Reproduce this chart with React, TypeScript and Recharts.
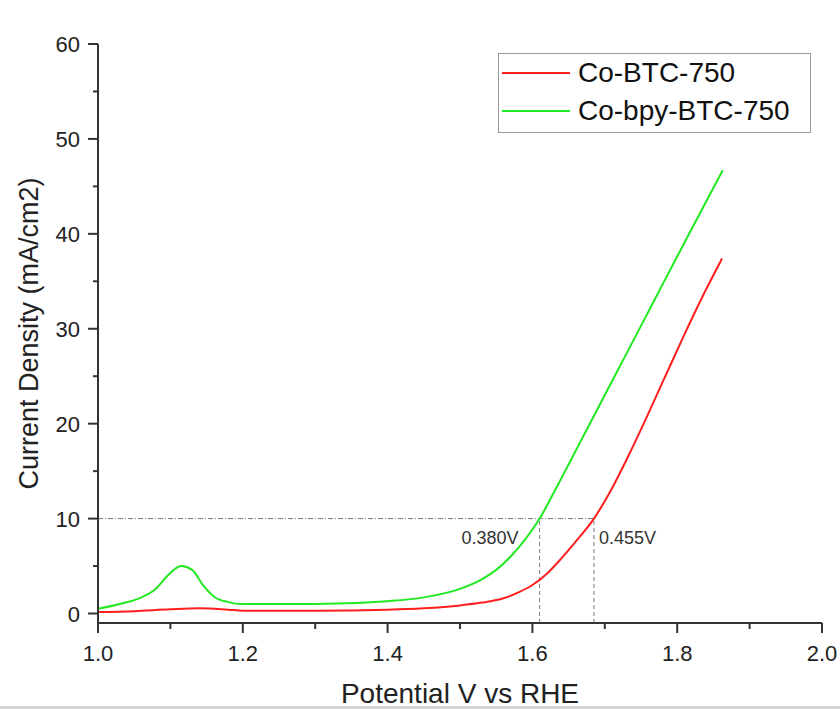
import React from 'react';
import { LineChart, Line, XAxis, YAxis, ReferenceLine, ReferenceDot } from 'recharts';

// Co-BTC-750 (red)
const redV = [1.0, 1.05, 1.1, 1.14, 1.18, 1.2, 1.3, 1.4, 1.45, 1.5, 1.53, 1.56, 1.58, 1.6, 1.62, 1.64, 1.66, 1.685, 1.71, 1.73, 1.75, 1.78, 1.81, 1.835, 1.862];
const redJ = [0.15, 0.25, 0.45, 0.55, 0.4, 0.3, 0.3, 0.4, 0.55, 0.85, 1.15, 1.6, 2.2, 3.0, 4.2, 5.8, 7.6, 10, 13.2, 16.2, 19.4, 24.4, 29.4, 33.4, 37.4];

// Co-bpy-BTC-750 (green)
const greenV = [1.0, 1.03, 1.06, 1.08, 1.095, 1.115, 1.13, 1.145, 1.16, 1.18, 1.2, 1.3, 1.4, 1.45, 1.5, 1.53, 1.55, 1.57, 1.59, 1.61, 1.63, 1.65, 1.68, 1.715, 1.75, 1.78, 1.813, 1.84, 1.863];
const greenJ = [0.5, 1.0, 1.7, 2.6, 3.9, 5.0, 4.6, 3.0, 1.8, 1.2, 1.0, 1.0, 1.3, 1.7, 2.6, 3.6, 4.6, 6.0, 7.8, 10, 12.8, 15.7, 20.1, 25.2, 30.3, 34.7, 39.5, 43.4, 46.7];

const seriesNames = ['Co-BTC-750', 'Co-bpy-BTC-750'];
const seriesColors = ['#ff1e1e', '#22e822'];

const xTicks = [1.0, 1.1, 1.2, 1.3, 1.4, 1.5, 1.6, 1.7, 1.8, 1.9, 2.0];
const yTicks = [0, 5, 10, 15, 20, 25, 30, 35, 40, 45, 50, 55, 60];

// overpotential markers at 10 mA/cm2
const markerLevel = 10;
const markerV = [1.61, 1.685];
const markerLabels = ['0.380V', '0.455V'];

const redData = redV.map((x, i) => ({ x, y: redJ[i] }));
const greenData = greenV.map((x, i) => ({ x, y: greenJ[i] }));

const FONT = '"Liberation Sans", Arial, sans-serif';
const AXIS = '#333';

const YTick = (props: any) => {
  const { x, y, payload } = props;
  const v = payload.value;
  const major = v % 10 === 0;
  const len = major ? 10 : 5;
  return (
    <g>
      <line x1={x - len} x2={x} y1={y} y2={y} stroke={AXIS} strokeWidth={2} />
      {major && (
        <text x={x - 18} y={y} dy={8} textAnchor="end" fontSize={22} fill="#222" fontFamily={FONT}>
          {v}
        </text>
      )}
    </g>
  );
};

const XTick = (props: any) => {
  const { x, y, payload } = props;
  const v = payload.value;
  const major = Math.round(v * 10) % 2 === 0;
  const len = major ? 10 : 6;
  return (
    <g>
      <line x1={x} x2={x} y1={y} y2={y + len} stroke={AXIS} strokeWidth={2} />
      {major && (
        <text x={x} y={y + 38} textAnchor="middle" fontSize={22} fill="#222" fontFamily={FONT}>
          {v.toFixed(1)}
        </text>
      )}
    </g>
  );
};

const yTitle = (props: any) => {
  const vb = props.viewBox;
  const cx = 38;
  const cy = vb.y + vb.height / 2;
  return (
    <text x={cx} y={cy} transform={`rotate(-90 ${cx} ${cy})`} textAnchor="middle" fontSize={27} fill="#222" fontFamily={FONT}>
      Current Density (mA/cm2)
    </text>
  );
};

const xTitle = (props: any) => {
  const vb = props.viewBox;
  return (
    <text x={vb.x + vb.width / 2} y={vb.y + 80} textAnchor="middle" fontSize={28} fill="#222" fontFamily={FONT}>
      Potential V vs RHE
    </text>
  );
};

const markerText = (label: string, side: 'left' | 'right') => (p: any) => (
  <text
    x={side === 'left' ? p.cx - 21 : p.cx + 5}
    y={p.cy + 25}
    textAnchor={side === 'left' ? 'end' : 'start'}
    fontSize={18}
    fill="#333"
    fontFamily={FONT}
  >
    {label}
  </text>
);

export default function App() {
  return (
    <div style={{ position: 'absolute', left: 0, top: 0, width: 840, height: 709, background: '#fff', overflow: 'hidden' }}>
      <LineChart width={840} height={709} margin={{ top: 44, right: 18, left: 28, bottom: 26 }}>
        <XAxis
          type="number"
          dataKey="x"
          domain={[1, 2]}
          ticks={xTicks}
          tick={<XTick />}
          tickSize={0}
          tickMargin={0}
          tickLine={false}
          height={60}
          stroke={AXIS}
          strokeWidth={2}
          allowDataOverflow
          label={xTitle}
        />
        <XAxis xAxisId="top" orientation="top" type="number" domain={[1, 2]} tick={false} tickLine={false} height={0} stroke={AXIS} strokeWidth={2} />
        <YAxis
          type="number"
          dataKey="y"
          domain={[-1, 60]}
          ticks={yTicks}
          tick={<YTick />}
          tickSize={0}
          tickMargin={0}
          tickLine={false}
          width={70}
          stroke={AXIS}
          strokeWidth={2}
          allowDataOverflow
          label={yTitle}
        />
        <YAxis yAxisId="right" orientation="right" type="number" domain={[-1, 60]} tick={false} tickLine={false} width={0} stroke={AXIS} strokeWidth={2} />

        <ReferenceLine
          segment={[{ x: 1, y: markerLevel }, { x: markerV[1], y: markerLevel }]}
          stroke="#777"
          strokeDasharray="5 2 1 2"
          strokeWidth={1}
        />
        {markerV.map((v) => (
          <ReferenceLine
            key={v}
            segment={[{ x: v, y: -1 }, { x: v, y: markerLevel }]}
            stroke="#777"
            strokeDasharray="4 3"
            strokeWidth={1}
          />
        ))}

        <Line data={redData} dataKey="y" name={seriesNames[0]} type="monotone" stroke={seriesColors[0]} strokeWidth={2} dot={false} isAnimationActive={false} />
        <Line data={greenData} dataKey="y" name={seriesNames[1]} type="monotone" stroke={seriesColors[1]} strokeWidth={2} dot={false} isAnimationActive={false} />

        <ReferenceDot x={markerV[0]} y={markerLevel} r={0} shape={markerText(markerLabels[0], 'left')} />
        <ReferenceDot x={markerV[1]} y={markerLevel} r={0} shape={markerText(markerLabels[1], 'right')} />
      </LineChart>

      <div
        style={{
          position: 'absolute',
          left: 498,
          top: 53,
          width: 311,
          height: 78,
          border: '1px solid #999',
          background: '#fff',
          fontFamily: FONT,
          fontSize: 28,
          color: '#111',
        }}
      >
        {seriesNames.map((n, i) => (
          <div key={n} style={{ position: 'absolute', left: 3, top: 19 + i * 38 - 17, height: 34, display: 'flex', alignItems: 'center', whiteSpace: 'nowrap' }}>
            <div style={{ width: 68, height: 2, background: seriesColors[i] }} />
            <span style={{ marginLeft: 8 }}>{n}</span>
          </div>
        ))}
      </div>

      <div style={{ position: 'absolute', left: 0, top: 706, width: 840, height: 3, background: '#d4d4d4' }} />
    </div>
  );
}
